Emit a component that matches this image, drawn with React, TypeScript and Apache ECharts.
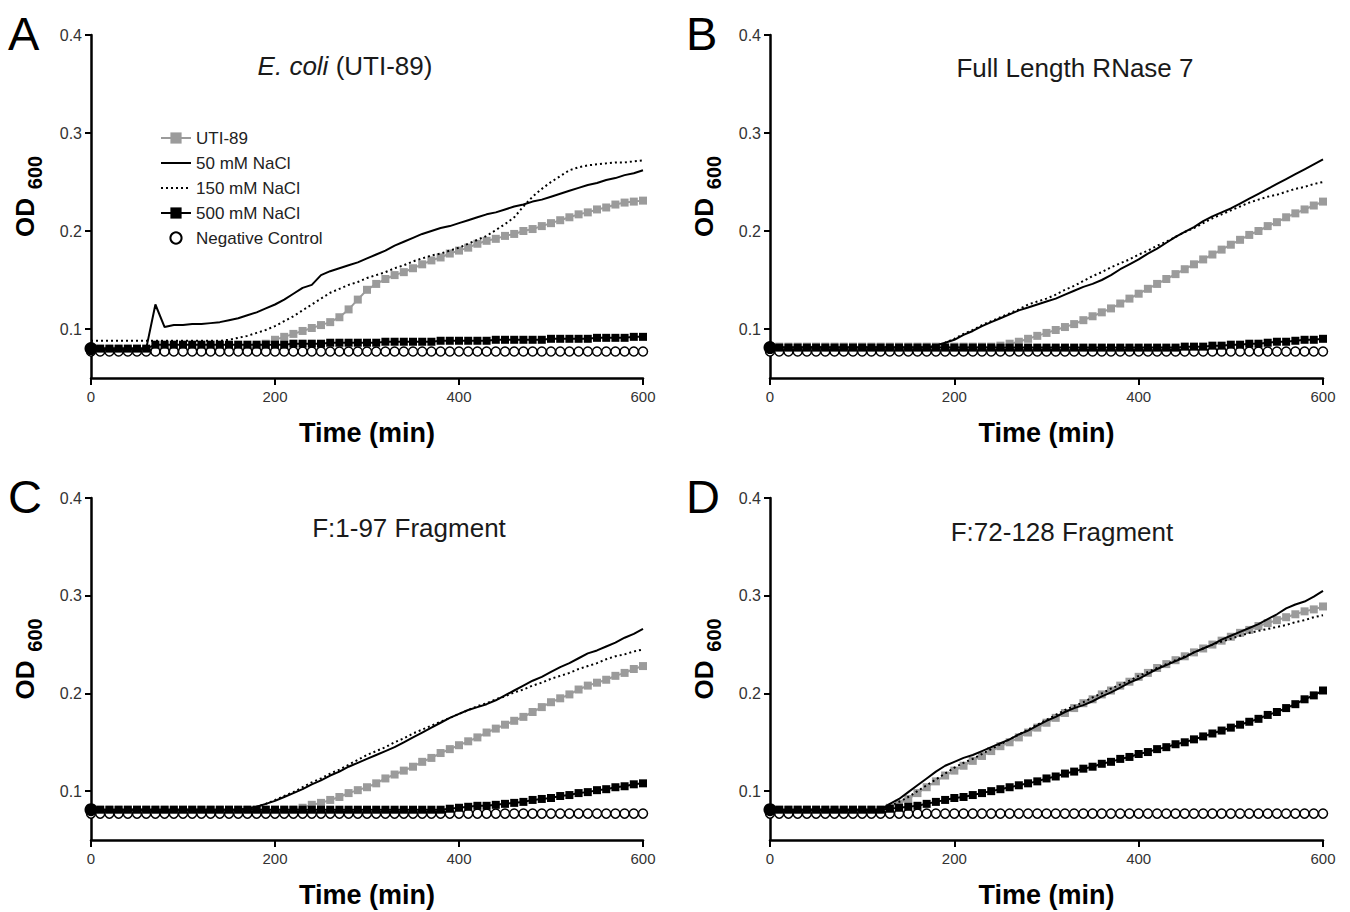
import React, { useEffect, useRef } from 'react';
import * as echarts from 'echarts';

const FONT = '"Liberation Sans", Arial, Helvetica, sans-serif';

const TIME = [
  0, 10, 20, 30, 40, 50, 60, 70, 80, 90,
  100, 110, 120, 130, 140, 150, 160, 170, 180, 190,
  200, 210, 220, 230, 240, 250, 260, 270, 280, 290,
  300, 310, 320, 330, 340, 350, 360, 370, 380, 390,
  400, 410, 420, 430, 440, 450, 460, 470, 480, 490,
  500, 510, 520, 530, 540, 550, 560, 570, 580, 590,
  600,
];

const SERIES_NAMES = ['UTI-89', '50 mM NaCl', '150 mM NaCl', '500 mM NaCl', 'Negative Control'];
const PANEL_LETTERS = ['A', 'B', 'C', 'D'];
const PANEL_TITLES = ['{i|E. coli} (UTI-89)', 'Full Length RNase 7', 'F:1-97 Fragment', 'F:72-128 Fragment'];
const X_TITLE = 'Time (min)';
const Y_TITLE = 'OD';
const Y_TITLE_SUB = '600';
const Y_TICKS = [0.1, 0.2, 0.3, 0.4];

// ---- Panel A: E. coli (UTI-89)
const A_UTI = [
  0.079, 0.079, 0.079, 0.079, 0.079, 0.079, 0.079, 0.079, 0.079, 0.079,
  0.079, 0.079, 0.079, 0.079, 0.079, 0.079, 0.079, 0.079, 0.082, 0.085,
  0.089, 0.092, 0.095, 0.098, 0.101, 0.104, 0.107, 0.112, 0.120, 0.130,
  0.140, 0.146, 0.151, 0.155, 0.158, 0.162, 0.166, 0.170, 0.173, 0.177,
  0.180, 0.183, 0.187, 0.190, 0.192, 0.195, 0.197, 0.200, 0.202, 0.205,
  0.208, 0.211, 0.214, 0.217, 0.219, 0.222, 0.224, 0.227, 0.229, 0.230,
  0.231,
];
const A_50 = [
  0.080, 0.080, 0.080, 0.080, 0.080, 0.080, 0.080, 0.125, 0.102, 0.104,
  0.104, 0.105, 0.105, 0.106, 0.107, 0.109, 0.111, 0.114, 0.117, 0.121,
  0.125, 0.130, 0.136, 0.142, 0.145, 0.155, 0.159, 0.162, 0.165, 0.168,
  0.172, 0.176, 0.180, 0.185, 0.189, 0.193, 0.197, 0.200, 0.203, 0.205,
  0.208, 0.211, 0.214, 0.217, 0.219, 0.222, 0.225, 0.227, 0.230, 0.232,
  0.235, 0.238, 0.241, 0.244, 0.247, 0.249, 0.252, 0.254, 0.257, 0.259,
  0.262,
];
const A_150 = [
  0.088, 0.088, 0.088, 0.088, 0.088, 0.088, 0.088, 0.088, 0.088, 0.088,
  0.088, 0.088, 0.088, 0.088, 0.088, 0.089, 0.091, 0.093, 0.096, 0.099,
  0.103, 0.108, 0.113, 0.119, 0.125, 0.131, 0.137, 0.141, 0.145, 0.148,
  0.152, 0.155, 0.158, 0.162, 0.165, 0.169, 0.172, 0.175, 0.177, 0.180,
  0.183, 0.187, 0.191, 0.195, 0.201, 0.207, 0.214, 0.225, 0.235, 0.243,
  0.250, 0.256, 0.262, 0.265, 0.267, 0.268, 0.269, 0.270, 0.270, 0.271,
  0.272,
];
const A_500 = [
  0.080, 0.080, 0.080, 0.080, 0.080, 0.080, 0.080, 0.084, 0.084, 0.084,
  0.084, 0.084, 0.084, 0.084, 0.084, 0.084, 0.084, 0.084, 0.084, 0.084,
  0.084, 0.084, 0.085, 0.085, 0.085, 0.085, 0.086, 0.086, 0.086, 0.086,
  0.086, 0.086, 0.087, 0.087, 0.087, 0.087, 0.087, 0.087, 0.088, 0.088,
  0.088, 0.088, 0.088, 0.088, 0.089, 0.089, 0.089, 0.089, 0.089, 0.089,
  0.090, 0.090, 0.090, 0.090, 0.090, 0.091, 0.091, 0.091, 0.091, 0.092,
  0.092,
];
const A_NEG = [
  0.077, 0.077, 0.077, 0.077, 0.077, 0.077, 0.077, 0.077, 0.077, 0.077,
  0.077, 0.077, 0.077, 0.077, 0.077, 0.077, 0.077, 0.077, 0.077, 0.077,
  0.077, 0.077, 0.077, 0.077, 0.077, 0.077, 0.077, 0.077, 0.077, 0.077,
  0.077, 0.077, 0.077, 0.077, 0.077, 0.077, 0.077, 0.077, 0.077, 0.077,
  0.077, 0.077, 0.077, 0.077, 0.077, 0.077, 0.077, 0.077, 0.077, 0.077,
  0.077, 0.077, 0.077, 0.077, 0.077, 0.077, 0.077, 0.077, 0.077, 0.077,
  0.077,
];

// ---- Panel B: Full Length RNase 7
const B_UTI = [
  0.082, 0.082, 0.082, 0.082, 0.082, 0.082, 0.082, 0.082, 0.082, 0.082,
  0.082, 0.082, 0.082, 0.082, 0.082, 0.082, 0.082, 0.082, 0.082, 0.082,
  0.082, 0.082, 0.082, 0.082, 0.082, 0.083, 0.085, 0.087, 0.090, 0.093,
  0.096, 0.099, 0.102, 0.105, 0.109, 0.113, 0.117, 0.121, 0.126, 0.131,
  0.136, 0.141, 0.146, 0.151, 0.156, 0.161, 0.166, 0.171, 0.176, 0.181,
  0.186, 0.191, 0.196, 0.200, 0.205, 0.209, 0.214, 0.218, 0.222, 0.226,
  0.230,
];
const B_50 = [
  0.081, 0.081, 0.081, 0.081, 0.081, 0.081, 0.081, 0.081, 0.081, 0.081,
  0.081, 0.081, 0.081, 0.081, 0.081, 0.081, 0.081, 0.081, 0.083, 0.086,
  0.089, 0.094, 0.098, 0.103, 0.107, 0.111, 0.115, 0.119, 0.122, 0.125,
  0.128, 0.131, 0.135, 0.139, 0.143, 0.146, 0.150, 0.155, 0.161, 0.166,
  0.171, 0.177, 0.182, 0.188, 0.194, 0.199, 0.204, 0.210, 0.215, 0.219,
  0.223, 0.228, 0.233, 0.238, 0.243, 0.248, 0.253, 0.258, 0.263, 0.268,
  0.273,
];
const B_150 = [
  0.081, 0.081, 0.081, 0.081, 0.081, 0.081, 0.081, 0.081, 0.081, 0.081,
  0.081, 0.081, 0.081, 0.081, 0.081, 0.081, 0.081, 0.081, 0.083, 0.086,
  0.090, 0.095, 0.099, 0.104, 0.108, 0.112, 0.116, 0.120, 0.125, 0.128,
  0.131, 0.135, 0.140, 0.144, 0.149, 0.154, 0.158, 0.163, 0.167, 0.171,
  0.176, 0.180, 0.185, 0.189, 0.194, 0.199, 0.203, 0.208, 0.213, 0.217,
  0.221, 0.225, 0.229, 0.232, 0.235, 0.237, 0.240, 0.243, 0.245, 0.248,
  0.250,
];
const B_500 = [
  0.081, 0.081, 0.081, 0.081, 0.081, 0.081, 0.081, 0.081, 0.081, 0.081,
  0.081, 0.081, 0.081, 0.081, 0.081, 0.081, 0.081, 0.081, 0.081, 0.081,
  0.081, 0.081, 0.081, 0.081, 0.081, 0.081, 0.081, 0.081, 0.081, 0.081,
  0.081, 0.081, 0.081, 0.081, 0.081, 0.081, 0.081, 0.081, 0.081, 0.081,
  0.081, 0.081, 0.081, 0.081, 0.081, 0.082, 0.082, 0.082, 0.083, 0.083,
  0.084, 0.084, 0.085, 0.085, 0.086, 0.087, 0.087, 0.088, 0.089, 0.089,
  0.090,
];
const B_NEG = [
  0.077, 0.077, 0.077, 0.077, 0.077, 0.077, 0.077, 0.077, 0.077, 0.077,
  0.077, 0.077, 0.077, 0.077, 0.077, 0.077, 0.077, 0.077, 0.077, 0.077,
  0.077, 0.077, 0.077, 0.077, 0.077, 0.077, 0.077, 0.077, 0.077, 0.077,
  0.077, 0.077, 0.077, 0.077, 0.077, 0.077, 0.077, 0.077, 0.077, 0.077,
  0.077, 0.077, 0.077, 0.077, 0.077, 0.077, 0.077, 0.077, 0.077, 0.077,
  0.077, 0.077, 0.077, 0.077, 0.077, 0.077, 0.077, 0.077, 0.077, 0.077,
  0.077,
];

// ---- Panel C: F:1-97 Fragment
const C_UTI = [
  0.081, 0.081, 0.081, 0.081, 0.081, 0.081, 0.081, 0.081, 0.081, 0.081,
  0.081, 0.081, 0.081, 0.081, 0.081, 0.081, 0.081, 0.081, 0.081, 0.081,
  0.081, 0.081, 0.081, 0.083, 0.086, 0.088, 0.091, 0.094, 0.098, 0.101,
  0.104, 0.108, 0.113, 0.117, 0.121, 0.125, 0.130, 0.134, 0.139, 0.143,
  0.147, 0.151, 0.155, 0.160, 0.164, 0.168, 0.172, 0.176, 0.181, 0.186,
  0.191, 0.195, 0.199, 0.204, 0.208, 0.211, 0.214, 0.218, 0.221, 0.225,
  0.228,
];
const C_50 = [
  0.081, 0.081, 0.081, 0.081, 0.081, 0.081, 0.081, 0.081, 0.081, 0.081,
  0.081, 0.081, 0.081, 0.081, 0.081, 0.081, 0.081, 0.082, 0.084, 0.087,
  0.090, 0.094, 0.098, 0.102, 0.107, 0.111, 0.116, 0.120, 0.125, 0.129,
  0.133, 0.137, 0.141, 0.145, 0.150, 0.155, 0.160, 0.165, 0.170, 0.175,
  0.179, 0.183, 0.186, 0.189, 0.193, 0.198, 0.203, 0.208, 0.213, 0.217,
  0.222, 0.227, 0.231, 0.236, 0.241, 0.244, 0.248, 0.252, 0.257, 0.261,
  0.266,
];
const C_150 = [
  0.081, 0.081, 0.081, 0.081, 0.081, 0.081, 0.081, 0.081, 0.081, 0.081,
  0.081, 0.081, 0.081, 0.081, 0.081, 0.081, 0.081, 0.082, 0.084, 0.087,
  0.091, 0.095, 0.099, 0.104, 0.109, 0.113, 0.118, 0.122, 0.127, 0.132,
  0.137, 0.141, 0.145, 0.150, 0.154, 0.159, 0.163, 0.167, 0.171, 0.175,
  0.179, 0.183, 0.187, 0.190, 0.194, 0.197, 0.201, 0.204, 0.208, 0.211,
  0.215, 0.218, 0.221, 0.225, 0.228, 0.231, 0.235, 0.238, 0.240, 0.243,
  0.245,
];
const C_500 = [
  0.081, 0.081, 0.081, 0.081, 0.081, 0.081, 0.081, 0.081, 0.081, 0.081,
  0.081, 0.081, 0.081, 0.081, 0.081, 0.081, 0.081, 0.081, 0.081, 0.081,
  0.081, 0.081, 0.081, 0.081, 0.081, 0.081, 0.081, 0.081, 0.081, 0.081,
  0.081, 0.081, 0.081, 0.081, 0.081, 0.081, 0.081, 0.081, 0.081, 0.082,
  0.083, 0.084, 0.085, 0.085, 0.086, 0.087, 0.088, 0.089, 0.091, 0.092,
  0.093, 0.095, 0.096, 0.098, 0.099, 0.101, 0.102, 0.104, 0.105, 0.107,
  0.108,
];
const C_NEG = [
  0.077, 0.077, 0.077, 0.077, 0.077, 0.077, 0.077, 0.077, 0.077, 0.077,
  0.077, 0.077, 0.077, 0.077, 0.077, 0.077, 0.077, 0.077, 0.077, 0.077,
  0.077, 0.077, 0.077, 0.077, 0.077, 0.077, 0.077, 0.077, 0.077, 0.077,
  0.077, 0.077, 0.077, 0.077, 0.077, 0.077, 0.077, 0.077, 0.077, 0.077,
  0.077, 0.077, 0.077, 0.077, 0.077, 0.077, 0.077, 0.077, 0.077, 0.077,
  0.077, 0.077, 0.077, 0.077, 0.077, 0.077, 0.077, 0.077, 0.077, 0.077,
  0.077,
];

// ---- Panel D: F:72-128 Fragment
const D_UTI = [
  0.081, 0.081, 0.081, 0.081, 0.081, 0.081, 0.081, 0.081, 0.081, 0.081,
  0.081, 0.081, 0.081, 0.083, 0.087, 0.092, 0.098, 0.104, 0.110, 0.116,
  0.121, 0.126, 0.131, 0.136, 0.141, 0.146, 0.150, 0.155, 0.160, 0.165,
  0.170, 0.175, 0.180, 0.185, 0.190, 0.194, 0.199, 0.203, 0.208, 0.212,
  0.217, 0.221, 0.226, 0.230, 0.234, 0.238, 0.242, 0.246, 0.250, 0.254,
  0.258, 0.262, 0.265, 0.269, 0.272, 0.275, 0.278, 0.281, 0.284, 0.286,
  0.289,
];
const D_50 = [
  0.081, 0.081, 0.081, 0.081, 0.081, 0.081, 0.081, 0.081, 0.081, 0.081,
  0.081, 0.081, 0.081, 0.087, 0.092, 0.099, 0.106, 0.113, 0.120, 0.126,
  0.130, 0.134, 0.137, 0.141, 0.145, 0.149, 0.153, 0.158, 0.162, 0.167,
  0.172, 0.176, 0.181, 0.185, 0.188, 0.192, 0.197, 0.201, 0.206, 0.211,
  0.215, 0.220, 0.225, 0.229, 0.233, 0.237, 0.242, 0.246, 0.250, 0.255,
  0.259, 0.263, 0.267, 0.271, 0.276, 0.281, 0.287, 0.291, 0.294, 0.299,
  0.305,
];
const D_150 = [
  0.081, 0.081, 0.081, 0.081, 0.081, 0.081, 0.081, 0.081, 0.081, 0.081,
  0.081, 0.081, 0.081, 0.085, 0.089, 0.094, 0.100, 0.106, 0.112, 0.118,
  0.124, 0.129, 0.133, 0.138, 0.143, 0.148, 0.153, 0.158, 0.163, 0.168,
  0.173, 0.178, 0.183, 0.187, 0.191, 0.196, 0.200, 0.205, 0.209, 0.213,
  0.218, 0.222, 0.226, 0.230, 0.234, 0.238, 0.242, 0.246, 0.250, 0.253,
  0.256, 0.259, 0.262, 0.264, 0.266, 0.268, 0.270, 0.273, 0.275, 0.278,
  0.280,
];
const D_500 = [
  0.081, 0.081, 0.081, 0.081, 0.081, 0.081, 0.081, 0.081, 0.081, 0.081,
  0.081, 0.081, 0.081, 0.082, 0.083, 0.084, 0.085, 0.087, 0.089, 0.091,
  0.093, 0.094, 0.096, 0.098, 0.100, 0.102, 0.104, 0.106, 0.108, 0.110,
  0.113, 0.115, 0.118, 0.120, 0.123, 0.125, 0.128, 0.130, 0.133, 0.135,
  0.138, 0.140, 0.143, 0.145, 0.148, 0.150, 0.153, 0.156, 0.159, 0.162,
  0.165, 0.168, 0.171, 0.174, 0.178, 0.181, 0.185, 0.189, 0.194, 0.198,
  0.203,
];
const D_NEG = [
  0.077, 0.077, 0.077, 0.077, 0.077, 0.077, 0.077, 0.077, 0.077, 0.077,
  0.077, 0.077, 0.077, 0.077, 0.077, 0.077, 0.077, 0.077, 0.077, 0.077,
  0.077, 0.077, 0.077, 0.077, 0.077, 0.077, 0.077, 0.077, 0.077, 0.077,
  0.077, 0.077, 0.077, 0.077, 0.077, 0.077, 0.077, 0.077, 0.077, 0.077,
  0.077, 0.077, 0.077, 0.077, 0.077, 0.077, 0.077, 0.077, 0.077, 0.077,
  0.077, 0.077, 0.077, 0.077, 0.077, 0.077, 0.077, 0.077, 0.077, 0.077,
  0.077,
];

const PANEL_SERIES = [
  [A_UTI, A_50, A_150, A_500, A_NEG],
  [B_UTI, B_50, B_150, B_500, B_NEG],
  [C_UTI, C_50, C_150, C_500, C_NEG],
  [D_UTI, D_50, D_150, D_500, D_NEG],
];

// layout (pixels)
const GRIDS = [
  { left: 91, top: 35, width: 552, height: 343 },
  { left: 770, top: 35, width: 553, height: 343 },
  { left: 91, top: 498, width: 552, height: 342 },
  { left: 770, top: 498, width: 553, height: 342 },
];
const LETTER_POS = [[8, 10], [686, 10], [8, 473], [686, 473]];
const TITLE_POS = [[345, 66], [1075, 68], [409, 528], [1062, 532]];

const GRAY = '#9b9b9b';

function pairs(ys: number[]) {
  return TIME.map((t, i) => [t, ys[i]]);
}

function buildOption() {
  const series: any[] = [];
  PANEL_SERIES.forEach((arrs, p) => {
    const [uti, s50, s150, s500, neg] = arrs;
    const base = { type: 'line', xAxisIndex: p, yAxisIndex: p, clip: false };
    series.push({
      ...base, name: SERIES_NAMES[0], data: pairs(uti), symbol: 'rect', symbolSize: 8,
      itemStyle: { color: GRAY }, lineStyle: { color: GRAY, width: 2 }, z: 2,
    });
    series.push({
      ...base, name: SERIES_NAMES[4], data: pairs(neg), symbol: 'circle', symbolSize: 9,
      itemStyle: { color: '#fff', borderColor: '#000', borderWidth: 1.5 },
      lineStyle: { opacity: 0, width: 0 }, z: 3,
    });
    series.push({
      ...base, name: SERIES_NAMES[3],
      data: pairs(s500).map((d, i) => (i === 0 ? { value: d, symbol: 'circle', symbolSize: 13 } : d)),
      symbol: 'rect', symbolSize: 8,
      itemStyle: { color: '#000' }, lineStyle: { color: '#000', width: 2 }, z: 4,
    });
    series.push({
      ...base, name: SERIES_NAMES[2], data: pairs(s150), symbol: 'none',
      lineStyle: { color: '#000', width: 2, type: [2, 3] }, itemStyle: { color: '#000' }, z: 5,
    });
    series.push({
      ...base, name: SERIES_NAMES[1], data: pairs(s50), symbol: 'none',
      lineStyle: { color: '#000', width: 2 }, itemStyle: { color: '#000' }, z: 6,
    });
  });

  const xAxis = GRIDS.map((_, p) => ({
    type: 'value', gridIndex: p, min: 0, max: 600, interval: 200,
    axisLine: { show: true, onZero: false, lineStyle: { color: '#000', width: 2.5 } },
    axisTick: { show: true, length: 7, lineStyle: { color: '#000', width: 2 } },
    axisLabel: { fontSize: 15, color: '#333', margin: 11, fontFamily: FONT },
    splitLine: { show: false },
    name: X_TITLE, nameLocation: 'middle', nameGap: 41,
    nameTextStyle: { fontSize: 27, fontWeight: 'bold', color: '#000', fontFamily: FONT },
  }));

  const yAxis = GRIDS.map((_, p) => ({
    type: 'value', gridIndex: p, min: 0.05, max: 0.4,
    axisLine: { show: true, onZero: false, lineStyle: { color: '#000', width: 2.5 } },
    axisTick: { show: true, length: 6, customValues: Y_TICKS, lineStyle: { color: '#000', width: 2 } },
    axisLabel: {
      customValues: Y_TICKS, fontSize: 16, color: '#333', margin: 9, fontFamily: FONT,
      formatter: (v: number) => v.toFixed(1),
    },
    splitLine: { show: false },
  }));

  const graphic: any[] = [];
  PANEL_LETTERS.forEach((letter, p) => {
    graphic.push({
      type: 'text', x: LETTER_POS[p][0], y: LETTER_POS[p][1],
      style: { text: letter, fontSize: 47, fontFamily: FONT, fill: '#000', align: 'left', verticalAlign: 'top' },
    });
    graphic.push({
      type: 'text', x: TITLE_POS[p][0], y: TITLE_POS[p][1],
      style: {
        text: PANEL_TITLES[p], fontSize: 26, fontFamily: FONT, fill: '#1a1a1a',
        align: 'center', verticalAlign: 'middle',
        rich: { i: { fontStyle: 'italic', fontSize: 26, fontFamily: FONT, fill: '#1a1a1a' } },
      },
    });
    const g = GRIDS[p];
    const cx = g.left - 66;
    const cy = g.top + g.height / 2;
    graphic.push({
      type: 'text', x: cx, y: cy + 11, rotation: Math.PI / 2,
      style: { text: Y_TITLE, fontSize: 26, fontWeight: 'bold', fontFamily: FONT, fill: '#000', align: 'center', verticalAlign: 'middle' },
    });
    graphic.push({
      type: 'text', x: cx + 10, y: cy - 34, rotation: Math.PI / 2,
      style: { text: Y_TITLE_SUB, fontSize: 20, fontWeight: 'bold', fontFamily: FONT, fill: '#000', align: 'center', verticalAlign: 'middle' },
    });
  });

  const legendData = SERIES_NAMES.map((name) =>
    name === '50 mM NaCl' || name === '150 mM NaCl'
      ? { name, itemStyle: { opacity: 0 } }
      : { name },
  );

  return {
    animation: false,
    backgroundColor: '#fff',
    textStyle: { fontFamily: FONT },
    grid: GRIDS.map((g) => ({ ...g, containLabel: false })),
    xAxis,
    yAxis,
    legend: {
      data: legendData,
      orient: 'vertical',
      left: 155,
      top: 124,
      itemWidth: 30,
      itemHeight: 14,
      itemGap: 7,
      textStyle: { fontSize: 17, color: '#222', fontFamily: FONT, lineHeight: 18 },
      selectedMode: false,
    },
    series,
    graphic,
  };
}

export default function App() {
  const ref = useRef<HTMLDivElement>(null);
  useEffect(() => {
    if (!ref.current) return;
    const chart = echarts.init(ref.current, undefined, { renderer: 'svg' });
    chart.setOption(buildOption() as any);
    return () => chart.dispose();
  }, []);
  return (
    <div
      ref={ref}
      style={{ position: 'absolute', left: 0, top: 0, width: 1350, height: 912, background: '#fff' }}
    />
  );
}
